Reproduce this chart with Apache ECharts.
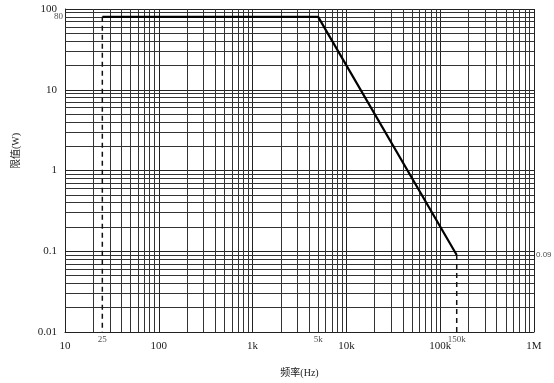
<!DOCTYPE html>
<html><head><meta charset="utf-8">
<script src="https://cdn.jsdelivr.net/npm/echarts@6/dist/echarts.min.js"></script>
<style>html,body{margin:0;padding:0;background:#fff}#c{width:554px;height:383px}</style>
</head><body><div id="c"></div>
<script>
// Data
var freqPoints = [25, 5000, 150000];
var powerPoints = [80, 80, 0.09];
var dash25 = [[25, 80], [25, 0.01]];
var dash150k = [[150000, 0.09], [150000, 0.01]];
var xMajorTicks = [10, 100, 1000, 10000, 100000, 1000000];
var xTickLabels = ['10', '100', '1k', '10k', '100k', '1M'];
var yMajorTicks = [0.01, 0.1, 1, 10, 100];
var yTickLabels = ['0.01', '0.1', '1', '10', '100'];
var extraXLabels = [[25, '25'], [5000, '5k'], [150000, '150k']];
var extraYLabels = [[80, '80']];
var endLabel = [[1000000, 0.09, '0.09']];

var serif = "'Liberation Serif','DejaVu Serif',serif";

// minor grid positions (2..9 of each decade)
var xMinor = [], yMinor = [];
for (var i = 0; i < xMajorTicks.length - 1; i++) for (var m = 2; m <= 9; m++) xMinor.push(xMajorTicks[i] * m);
for (var j = 0; j < yMajorTicks.length - 1; j++) for (var n = 2; n <= 9; n++) yMinor.push(+(yMajorTicks[j] * n).toPrecision(6));
var gridLines = xMinor.map(function (v) { return { xAxis: v }; }).concat(yMinor.map(function (v) { return { yAxis: v }; }));

function xfmt(v) { var k = xMajorTicks.indexOf(Math.round(v)); return k >= 0 ? xTickLabels[k] : ''; }
function yfmt(v) {
  for (var k = 0; k < yMajorTicks.length; k++) if (Math.abs(v / yMajorTicks[k] - 1) < 1e-6) return yTickLabels[k];
  return '';
}

var chart = echarts.init(document.getElementById('c'), null, { renderer: 'canvas' });
chart.setOption({
  animation: false,
  backgroundColor: '#fff',
  grid: { left: 65, right: 20, top: 9, bottom: 48, containLabel: false },
  xAxis: {
    type: 'log', logBase: 10, min: 10, max: 1000000,
    name: '频率(Hz)', nameLocation: 'middle', nameGap: 36,
    nameTextStyle: { fontFamily: serif + ",'Noto Sans CJK SC'", fontSize: 10, color: '#222' },
    axisLine: { show: true, lineStyle: { color: '#222', width: 1 } },
    axisTick: { show: false },
    axisLabel: { formatter: xfmt, fontFamily: serif, fontSize: 11, color: '#222', margin: 9 },
    splitLine: { show: true, lineStyle: { color: '#222', width: 1 } }
  },
  yAxis: {
    type: 'log', logBase: 10, min: 0.01, max: 100,
    axisLine: { show: true, lineStyle: { color: '#222', width: 1 } },
    axisTick: { show: false },
    axisLabel: { formatter: yfmt, fontFamily: serif, fontSize: 11, color: '#222', margin: 8 },
    splitLine: { show: true, lineStyle: { color: '#222', width: 1 } }
  },
  graphic: [{
    type: 'text', x: 16, y: 151, rotation: Math.PI / 2,
    style: { text: '限值(W)', font: "10px " + serif + ",'Noto Sans CJK SC'", fill: '#222', align: 'center', verticalAlign: 'middle' }
  }],
  series: [
    {
      type: 'line', silent: true, symbol: 'none', data: [],
      markLine: { silent: true, symbol: 'none', animation: false, label: { show: false },
        lineStyle: { color: '#333', width: 1, type: 'solid' }, emphasis: { disabled: true }, data: gridLines }
    },
    { type: 'line', symbol: 'none', data: dash25, lineStyle: { color: '#111', width: 1.5, type: [5, 4] }, z: 5 },
    { type: 'line', symbol: 'none', data: dash150k, lineStyle: { color: '#111', width: 1.5, type: [5, 4] }, z: 5 },
    { type: 'line', symbol: 'none', data: freqPoints.map(function (f, k) { return [f, powerPoints[k]]; }),
      lineStyle: { color: '#000', width: 2.2 }, z: 6 },
    { type: 'scatter', symbolSize: 0, silent: true, data: extraXLabels.map(function (d) { return { value: [d[0], 0.01], name: d[1] }; }),
      label: { show: true, position: 'bottom', distance: 3, formatter: '{b}', fontFamily: serif, fontSize: 9, color: '#222' } },
    { type: 'scatter', symbolSize: 0, silent: true, data: extraYLabels.map(function (d) { return { value: [10, d[0]], name: d[1] }; }),
      label: { show: true, position: 'left', distance: 2, formatter: '{b}', fontFamily: serif, fontSize: 9, color: '#222' } },
    { type: 'scatter', symbolSize: 0, silent: true, data: endLabel.map(function (d) { return { value: [d[0], d[1]], name: d[2] }; }),
      label: { show: true, position: 'right', distance: 2, formatter: '{b}', fontFamily: "'Liberation Sans',sans-serif", fontSize: 8, color: '#222' } }
  ]
});
</script>
</body></html>
